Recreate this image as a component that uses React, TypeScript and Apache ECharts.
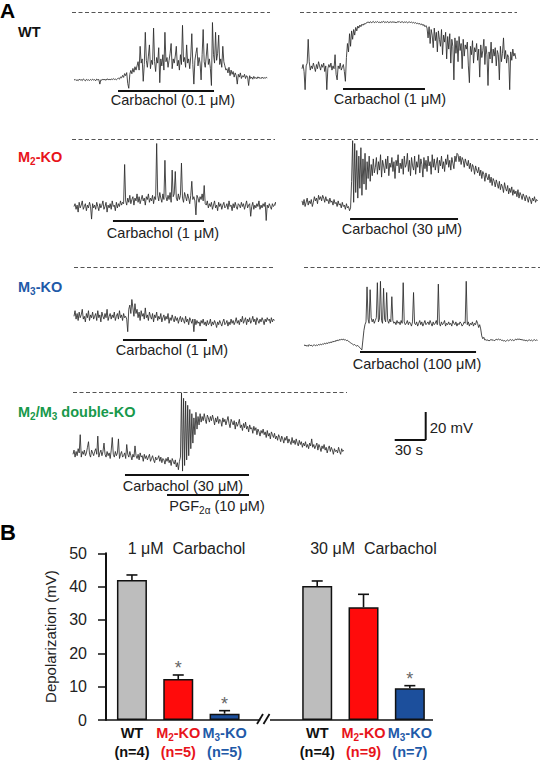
import React, { useEffect, useRef } from 'react';
import * as echarts from 'echarts';

const FONT = '"Liberation Sans", Arial, Helvetica, sans-serif';

// recording scale: 20 mV and 30 s scale bars
const SAMPLE_S = 1;
const PX_PER_MV = 28 / 20;
const PX_PER_S = 31 / 30;
const Y_MAX = 5;
const Y_MIN = -80;

// membrane potential (mV, relative to the dashed 0 mV reference), one sample per second
const wtCch01 = [
  -48.2, -47.6, -48.4, -47.9, -48.6, -47.5, -48.1, -47.8, -48.5, -47.3, -48.0, -48.7, -47.6, -48.2, -47.9, -48.4, -47.7, -48.3, -47.5, -48.1,
  -47.8, -48.6, -47.4, -48.0, -47.7, -51.0, -47.9, -48.2, -47.5, -48.0, -47.6, -48.3, -47.2, -47.9, -47.5, -48.1, -47.3, -47.8, -47.1, -47.7,
  -47.4, -47.9, -47.2,
  // carbachol onset
  -46.8, -47.5, -45.9, -46.6, -44.8, -46.2, -43.5, -45.0, -42.8, -50.5, -54.0, -44.0, -41.2, -43.6, -39.8, -42.5, -38.6, -41.0,
  // spiking plateau
  -38, -35, -41, -24, -36, -33, -49, -37, -14, -34, -39, -31, -23, -40, -34, -37, -11, -35, -42, -32,
  -36, -25, -50, -33, -38, -30, -41, -14, -35, -32, -39, -34, -29, -22, -40, -33, -36, -31, -24, -38,
  -34, -41, -30, -37, -9, -35, -32, -39, -23, -36, -33, -40, -31, -15, -37, -51, -34, -29, -25, -38,
  -32, -36, -48, -30, -12, -35, -39, -31, -22, -37, -33, -40, -52, -7, -30, -36, -14, -34, -29, -16,
  -37, -33, -39, -24, -35, -38, -41,
  // washout
  -40, -43, -39, -45, -41, -44, -42, -46, -43, -45, -51, -44, -46, -43, -47, -45, -46, -44, -47, -45,
  -46, -52, -45, -47, -46, -47.5, -45.5, -47, -46.2, -47.2, -45.8, -46.8, -46.3, -47.1, -46, -46.9, -46.4, -46.8, -46.2, -46.6,
];
const wtCch1 = [
  -40, -37, -42, -55, -38, -36, -19, -35, -41, -38, -40, -36, -39, -42, -37, -40, -35, -38, -41, -37,
  -39, -36, -42, -38, -55, -40, -37, -39, -36, -41, -38, -40, -30, -44, -48, -38, -40, -36, -41, -39,
  -37, -42, -49,
  // rise
  -32, -22, -28, -15, -24, -13, -19, -12, -16, -10.5, -13, -9.5, -11, -8.8, -10, -8.2, -9, -7.8, -8.3, -7.4,
  // sustained depolarization
  -7, -6.6, -7.3, -6.4, -7.1, -6.8, -6.2, -7.2, -6.5, -6.9, -6.3, -7.0, -6.6, -7.4, -6.4, -6.8, -6.1, -7.1, -6.6, -6.9,
  -6.3, -7.2, -6.7, -6.5, -7.0, -6.4, -6.9, -6.6, -7.3, -6.5, -6.8, -6.2, -7.0, -6.7, -6.4, -7.1, -6.6, -6.9, -6.5, -7.2,
  -6.8, -6.6, -7.0, -6.7, -7.3, -6.9, -7.5, -7.1, -7.8, -7.4, -8.2, -7.7, -8.6, -8.0, -9.2, -8.5, -10, -9.2,
  // oscillating recovery
  -11, -18, -10, -22, -12, -16, -25, -11, -20, -14, -28, -13, -19, -24, -12, -30, -16, -21, -14, -33,
  -17, -26, -15, -36, -19, -24, -48, -18, -29, -20, -35, -17, -27, -22, -40, -19, -31, -23, -26, -21,
  -38, -50, -24, -30, -20, -36, -25, -28, -22, -34, -26, -46, -23, -32, -27, -19, -37, -24, -30, -52,
  -28, -33, -21, -36, -26, -31, -25, -38, -27, -30, -48, -24, -35, -29, -18, -33, -27, -36, -30, -32,
  -55, -28, -34, -26, -31, -29, -33,
];
const m2Cch1 = [
  -48, -46, -50, -47, -52, -45, -49, -47, -44, -50, -48, -46, -51, -47, -49, -45, -48, -57, -46, -49,
  -47, -50, -45, -48, -51, -46, -49, -47, -44, -50, -48, -45, -52, -47, -49, -46, -50, -44, -48, -47,
  -51, -45, -49, -46, -48, -44, -47, -45, -46,
  -18,
  -44, -47, -42, -45, -40, -46, -43, -41, -47, -42, -44, -39, -45, -41, -46, -43, -40, -44, -42, -47,
  -41, -43, -39, -45, -42, -44, -40, -46, -41, -43,
  -3,
  -40, -44, -38, -42, -45, -39, -43, -15, -41, -44, -40, -43, -38, -45, -22, -41, -39, -23, -42, -44,
  -39, -43, -40, -17, -42, -45, -38, -41, -44, -39, -42, -46, -40, -30, -43, -41, -44, -54, -40, -42,
  -45, -41, -43, -39, -44, -33, -46,
  -47, -44, -49, -46, -48, -45, -50, -47, -44, -49, -47, -51, -45, -48, -46, -50, -47, -45, -49, -48,
  -46, -50, -44, -48, -47, -51, -46, -49, -45, -48, -50, -46, -47, -49, -45, -48, -46, -50, -47, -44,
  -49, -47, -46, -55, -48, -45, -50, -47, -49, -46, -48, -44, -50, -47, -49, -46, -48, -45, -58, -47,
  -49, -46, -48, -50, -46, -48, -47, -45, -48,
];
const m2Cch30 = [
  -44, -47, -43, -48, -45, -42, -47, -44, -46, -43, -48, -45, -41, -44, -42, -46, -40, -43, -41, -44,
  -40, -42, -45, -41, -44, -43, -46, -42, -45, -44, -47, -43, -46, -45, -48, -44, -47, -46, -49, -45,
  -48, -47, -50, -46, -49, -48, -51, -49,
  // onset burst
  -30, -1, -45, -3, -38, -8, -42, -12, -35, -6, -40, -14, -32, -10, -36, -16, -28, -12, -30, -18,
  -26, -14, -24,
  // plateau
  -20, -13, -25, -16, -22, -11, -27, -15, -19, -24, -14, -21, -12, -26, -17, -20, -13, -23, -16, -28,
  -15, -19, -11, -24, -17, -21, -14, -25, -12, -20, -18, -10, -23, -15, -26, -13, -19, -22, -12, -25,
  -16, -20, -11, -24, -14, -18, -27, -13, -21, -15, -23, -12, -19, -16, -25, -11, -20, -14, -22, -17,
  -13, -24, -15, -19, -12, -21, -16, -23, -14, -18, -11, -20, -15, -22, -13, -17, -21, -12, -16, -10,
  // slow repolarization
  -11, -16, -12, -18, -13, -15, -20, -14, -17, -19, -15, -21, -17, -23, -18, -20, -25, -19, -22, -24,
  -20, -26, -22, -28, -23, -25, -30, -24, -27, -29, -25, -31, -27, -33, -28, -30, -34, -29, -32, -35,
  -30, -36, -32, -34, -38, -31, -35, -37, -33, -39, -35, -38, -34, -40, -36, -39, -37, -41, -36, -42,
  -38, -40, -43, -39, -41, -44, -40, -42, -45, -41, -43, -46, -42, -44, -41, -45, -43, -44,
];
const m3Cch1 = [
  -35, -31, -37, -33, -38, -32, -36, -34, -30, -37, -35, -39, -33, -36, -31, -38, -34, -36, -32, -37,
  -35, -33, -38, -31, -36, -34, -39, -32, -35, -37, -33, -36, -30, -38, -35, -33, -37, -34, -36, -32,
  -38, -35, -33, -37, -31, -36, -34, -38, -33, -36, -35, -37,
  -46, -30, -27, -33, -23, -29, -35, -26, -33,
  -30, -36, -32, -38, -31, -35, -33, -37, -29, -36, -34, -38, -32, -35, -37, -33, -39, -34, -36, -32,
  -38, -35, -37, -33, -39, -36, -34, -38, -35, -37, -33, -40, -36, -38, -34, -37, -39, -35, -38, -36,
  -40, -37, -35, -39, -36, -38, -40, -35, -39, -37, -41, -36, -38, -40, -37,
  -46,
  -37, -41, -38, -40, -39, -42, -38, -40, -37, -41, -39, -42, -38, -41, -40, -37, -42, -39, -41, -38,
  -40, -43, -39, -41, -38, -40, -42, -39, -37, -41, -40, -38, -42, -39, -41, -37, -40, -38, -41, -39,
  -36, -40, -38, -41, -37, -39, -35, -40, -38, -36, -41, -37, -39, -36, -40, -38, -35, -39, -37, -41,
  -36, -38, -40, -37, -39, -36, -38, -41, -37, -39, -36, -38, -37, -40, -36, -39, -37, -38,
];
const m3Cch100 = [
  -56, -55.4, -56.3, -55.7, -56.5, -55.2, -56, -55.6, -56.4, -55.8, -55.3, -56.1, -55.5, -55.9, -55.1, -55.6, -54.8, -55.4, -54.6, -55,
  -54.2, -54.8, -53.9, -54.5, -53.6, -54.1, -53.2, -53.8, -52.8, -53.3, -52.4, -52.9, -51.9, -52.5, -51.6, -52.1, -51.3, -51.8, -51.2, -52,
  -51.6, -52.4, -52.1, -52.9, -53.3, -53.9, -54.4, -54.9, -55.5, -55.1, -55.9, -56.3, -55.8, -56.7, -57.3, -58.2, -59,
  -52, -45, -41,
  // plateau with action potentials
  -39, -14, -37, -40, -16, -36, -39, -37, -40, -38, -36, -11, -39, -37, -10, -38, -40, -15, -37, -39,
  -18, -38, -40, -37, -39, -21, -38, -40, -39, -41, -38, -40, -39, -41, -38, -40, -11, -39, -41, -40,
  -38, -41, -39, -40, -42, -39, -18, -40, -41, -39, -42, -40, -38, -41, -39, -42, -40, -38, -41, -40,
  -39, -41, -38, -40, -42, -39, -41, -40, -38, -41, -12, -40, -42, -39, -41, -40, -38, -42, -40, -41,
  -39, -41, -40, -42, -38, -40, -41, -39, -42, -40, -41, -39, -40, -42, -41, -39, -40, -10, -41, -39,
  -42, -40, -41, -39, -42, -40, -41, -38, -40, -43, -41,
  -44, -49, -51, -50, -52,
  -51.6, -52.3, -51.8, -52.6, -52.1, -51.5, -52.2, -51.7, -52.5, -52, -51.4, -51.9, -51.2, -51.8, -51.5, -52.2, -51.9, -52.7, -52.3, -52.9,
  -52.4, -51.9, -52.5, -52, -51.6, -52.3, -51.7, -52.4, -51.9, -51.3, -51.8, -51.1, -51.6, -51.2, -51.9, -51.5, -52.2, -51.8, -52.5, -52,
  -52.7, -52.2, -51.8, -52.4, -51.9, -52.6, -52.1, -51.7, -52.3, -51.9, -52.2,
];
const dkoCch30 = [
  -44, -41, -46, -42, -45, -40, -43, -30, -46, -42, -44, -41, -45, -43, -39, -35, -44, -46, -41, -43,
  -45, -42, -40, -44, -31, -46, -43, -41, -45, -42, -36, -44, -46, -42, -45, -43, -47, -41, -32, -44,
  -46, -42, -45, -43, -33, -47, -44, -42, -46, -45, -43, -47, -37, -44, -46, -42, -45, -48, -44, -46,
  -38, -45, -47, -44, -48, -43, -46, -45, -49, -44, -47, -45, -48, -46, -44, -49, -47, -45, -48, -50,
  -46, -48, -47, -45, -49, -46, -50, -47, -48, -51, -47, -49, -46, -50, -48, -52, -47, -49, -51, -48,
  -53, -50, -55, -49,
  // transient burst
  -46, 0, -56, -4, -52, -6, -48, -9, -45, -12, -40, -15, -36, -18, -30, -14, -26, -17, -23, -15, -21,
  // decaying depolarization
  -17, -20, -15, -19, -22, -16, -18, -21, -17, -20, -16, -19, -23, -18, -21, -17, -22, -19, -20, -24,
  -18, -21, -19, -23, -20, -17, -22, -25, -19, -21, -23, -20, -26, -21, -24, -22, -19, -25, -23, -27,
  -22, -25, -21, -26, -24, -28, -23, -26, -25, -29, -24, -27, -25, -30, -26, -28, -31, -27, -29, -26,
  -30, -28, -32, -27, -31, -29, -33, -28, -30, -32, -29, -33, -31, -34, -30, -32, -35, -31, -33, -36,
  -32, -34, -31, -36, -33, -35, -37, -32, -36, -34, -37, -33, -36, -38, -34, -37, -35, -39, -36, -38,
  -35, -39, -37, -40, -36, -38, -33, -39, -37, -40, -38, -36, -41, -37, -39, -42, -38, -40, -37, -41,
  -39, -43, -40, -38, -42, -39, -41, -44, -40, -42, -41, -43, -39, -42, -44, -40, -42, -41,
];

// drug application windows (s from the start of each recording)
const wtCch01Window = [42.6, 135.5];
const wtCch1Window = [39.7, 119.0];
const m2Cch1Window = [37.7, 125.8];
const m2Cch30Window = [46.5, 151.0];
const m3Cch1Window = [47.4, 128.7];
const m3Cch100Window = [54.2, 166.5];
const dkoCchWindow = [50.3, 170.3];
const dkoPgfWindow = [91.0, 170.3];

const drugLabels = [
  'Carbachol (0.1 μM)',
  'Carbachol (1 μM)',
  'Carbachol (1 μM)',
  'Carbachol (30 μM)',
  'Carbachol (1 μM)',
  'Carbachol (100 μM)',
  'Carbachol (30 μM)',
];

// summary: depolarization (mV), mean ± SEM
const barSlots = [0, 1, 2, 4, 5, 6];
const genotypes = ['WT', 'M2-KO', 'M3-KO', 'WT', 'M2-KO', 'M3-KO'];
const sampleSizes = [4, 5, 5, 4, 9, 7];
const depolMean = [42.0, 12.3, 1.9, 40.2, 33.8, 9.5];
const depolSem = [1.5, 1.2, 0.9, 1.5, 3.9, 0.8];
const significant = [false, true, true, false, false, true];
const doseTitles = ['1 μM  Carbachol', '30 μM  Carbachol'];
const depolTicks = [0, 10, 20, 30, 40, 50];

// ---- layout ----
const recordings = [wtCch01, wtCch1, m2Cch1, m2Cch30, m3Cch1, m3Cch100, dkoCch30];
const windows = [
  [wtCch01Window],
  [wtCch1Window],
  [m2Cch1Window],
  [m2Cch30Window],
  [m3Cch1Window],
  [m3Cch100Window],
  [dkoCchWindow, dkoPgfWindow],
];
const panelLayout = [
  { traceX: 74, dashX: [72, 270], dashY: 12.7, barY: [90.7], label: [173, 100] },
  { traceX: 302, dashX: [300, 517], dashY: 12.7, barY: [89], label: [390, 99] },
  { traceX: 74, dashX: [72, 275], dashY: 139.3, barY: [220.7], label: [163, 232.7] },
  { traceX: 302, dashX: [302, 538], dashY: 139.3, barY: [219], label: [402, 229] },
  { traceX: 74, dashX: [74, 275], dashY: 267.3, barY: [339.3], label: [172, 350] },
  { traceX: 304, dashX: [304, 540], dashY: 267.3, barY: [351.7], label: [417, 364] },
  { traceX: 73, dashX: [73, 347], dashY: 392.7, barY: [475, 495], label: [183, 486] },
];

const RED = '#e8141b';
const BLUE = '#1f5aa8';
const GREEN = '#18994b';
const genotypeColor: Record<string, string> = { WT: '#111111', 'M2-KO': RED, 'M3-KO': BLUE };
const barFill: Record<string, string> = { WT: '#bdbdbd', 'M2-KO': '#ff0b0b', 'M3-KO': '#1c4f9c' };

const BAR_GRID = { left: 106, top: 553.3, width: 327, height: 166.7 };
const SLOT_MIN = -0.56;
const SLOT_MAX = 6.5;

function richPair(color: string, size: number, bold = true) {
  const lh = size + 4;
  const sub = Math.round(size * 0.68);
  return {
    t: { color, fontSize: size, fontWeight: bold ? 'bold' : 'normal', fontFamily: FONT, lineHeight: lh },
    s: { color, fontSize: sub, fontWeight: bold ? 'bold' : 'normal', fontFamily: FONT, lineHeight: sub, padding: [lh - sub, 0, 0, 0] },
  };
}

function withSub(name: string, key: string) {
  // "M2-KO" -> M{sub 2}-KO
  const m = name.match(/^M(\d)(.*)$/);
  if (!m) return `{${key}t|${name}}`;
  return `{${key}t|M}{${key}s|${m[1]}}{${key}t|${m[2]}}`;
}

function rowLabel(text: string, color: string, x: number, y: number) {
  return {
    type: 'text',
    x,
    y,
    silent: true,
    style: {
      text,
      rich: richPair(color, 14.5),
      fill: color,
      font: `bold 14.5px ${FONT}`,
      align: 'left',
      verticalAlign: 'middle',
      textAlign: 'left',
      textVerticalAlign: 'middle',
    },
  };
}

function plainText(text: string, x: number, y: number, size: number, opts: any = {}) {
  return {
    type: 'text',
    x,
    y,
    silent: true,
    style: {
      text,
      fill: opts.color || '#222',
      font: `${opts.bold ? 'bold ' : ''}${size}px ${FONT}`,
      align: opts.align || 'center',
      verticalAlign: 'middle',
      textAlign: opts.align || 'center',
      textVerticalAlign: 'middle',
    },
  };
}

function buildOption() {
  const grids: any[] = [];
  const xAxes: any[] = [];
  const yAxes: any[] = [];
  const series: any[] = [];

  panelLayout.forEach((p, i) => {
    const tMin = (p.dashX[0] - p.traceX) / PX_PER_S;
    const tMax = (p.dashX[1] - p.traceX) / PX_PER_S;
    grids.push({
      left: p.dashX[0],
      top: p.dashY - Y_MAX * PX_PER_MV,
      width: p.dashX[1] - p.dashX[0],
      height: (Y_MAX - Y_MIN) * PX_PER_MV,
    });
    xAxes.push({ gridIndex: i, type: 'value', min: tMin, max: tMax, show: false });
    yAxes.push({ gridIndex: i, type: 'value', min: Y_MIN, max: Y_MAX, show: false });

    const drugLines = windows[i].map((w, k) => {
      const level = -(p.barY[k] - p.dashY) / PX_PER_MV;
      return [
        { coord: [w[0], level], lineStyle: { type: 'solid', color: '#111', width: 2.2 } },
        { coord: [w[1], level] },
      ];
    });

    series.push({
      type: 'line',
      xAxisIndex: i,
      yAxisIndex: i,
      data: recordings[i].map((v, j) => [j * SAMPLE_S, v]),
      showSymbol: false,
      symbol: 'none',
      silent: true,
      lineStyle: { color: '#2a2a2a', width: 0.85 },
      markLine: {
        silent: true,
        symbol: ['none', 'none'],
        label: { show: false },
        data: [
          [
            { coord: [tMin, 0], lineStyle: { type: [4, 2.5], color: '#555', width: 1 } },
            { coord: [tMax, 0] },
          ],
          ...drugLines,
        ],
      },
    });
  });

  // summary bar chart
  const bi = panelLayout.length;
  grids.push({ ...BAR_GRID });
  const labelRich: any = {};
  ['wt', 'm2', 'm3'].forEach((k, idx) => {
    const col = [genotypeColor.WT, RED, BLUE][idx];
    const rp = richPair(col, 14.5);
    labelRich[k + 't'] = rp.t;
    labelRich[k + 's'] = rp.s;
  });
  xAxes.push({
    gridIndex: bi,
    type: 'value',
    min: SLOT_MIN,
    max: SLOT_MAX,
    axisLine: { show: false, onZero: false },
    axisTick: { show: false },
    splitLine: { show: false },
    axisLabel: {
      customValues: barSlots,
      margin: 4,
      rich: labelRich,
      formatter: (v: number) => {
        const i = barSlots.indexOf(Math.round(v));
        if (i < 0) return '';
        const g = genotypes[i];
        const key = g === 'WT' ? 'wt' : g === 'M2-KO' ? 'm2' : 'm3';
        return `${withSub(g, key)}\n{${key}t|(n=${sampleSizes[i]})}`;
      },
    },
  });
  yAxes.push({
    gridIndex: bi,
    type: 'value',
    min: 0,
    max: 50,
    interval: 10,
    axisLine: { show: true, onZero: false, lineStyle: { color: '#111', width: 2 } },
    axisTick: { show: true, length: 8, lineStyle: { color: '#111', width: 1.5 } },
    axisLabel: { fontSize: 16, color: '#222', fontFamily: FONT, margin: 19, customValues: depolTicks },
    splitLine: { show: false },
    name: 'Depolarization (mV)',
    nameLocation: 'middle',
    nameGap: 46,
    nameRotate: 90,
    nameTextStyle: { fontSize: 15, color: '#222', fontFamily: FONT },
  });

  series.push({
    type: 'bar',
    xAxisIndex: bi,
    yAxisIndex: bi,
    barWidth: 30,
    silent: true,
    data: barSlots.map((s, i) => ({
      value: [s, depolMean[i]],
      itemStyle: { color: barFill[genotypes[i]], borderColor: '#111', borderWidth: 1.5 },
    })),
    markLine: {
      silent: true,
      symbol: ['none', 'none'],
      label: { show: false },
      lineStyle: { type: 'solid', color: '#111', width: 1.6 },
      data: [
        [{ coord: [SLOT_MIN, 0] }, { coord: [2.77, 0] }],
        [{ coord: [2.98, 0] }, { coord: [SLOT_MAX, 0] }],
      ],
    },
    z: 2,
  });

  series.push({
    type: 'custom',
    xAxisIndex: bi,
    yAxisIndex: bi,
    silent: true,
    z: 3,
    data: barSlots.map((s, i) => [s, depolMean[i], depolSem[i], significant[i] ? 1 : 0]),
    renderItem: (params: any, api: any) => {
      const x = api.value(0);
      const m = api.value(1);
      const e = api.value(2);
      const sig = api.value(3);
      const base = api.coord([x, m]);
      const top = api.coord([x, m + e]);
      const stroke = { stroke: '#111', lineWidth: 1.6 };
      const children: any[] = [
        { type: 'line', shape: { x1: base[0], y1: base[1], x2: top[0], y2: top[1] }, style: stroke },
        { type: 'line', shape: { x1: top[0] - 5.5, y1: top[1], x2: top[0] + 5.5, y2: top[1] }, style: stroke },
      ];
      if (sig) {
        children.push({
          type: 'text',
          x: top[0],
          y: top[1] - 7,
          style: {
            text: '*',
            fill: '#666',
            font: `18px ${FONT}`,
            align: 'center',
            verticalAlign: 'middle',
            textAlign: 'center',
            textVerticalAlign: 'middle',
          },
        });
      }
      return { type: 'group', children };
    },
  });

  // annotations
  const SB_X = 425.7;
  const SB_Y = 440;
  const graphic: any[] = [
    plainText('A', 0, 10.5, 21, { bold: true, align: 'left', color: '#000' }),
    plainText('B', 0, 532, 22, { bold: true, align: 'left', color: '#000' }),
    rowLabel('{t|WT}', '#111', 18, 32),
    rowLabel('{t|M}{s|2}{t|-KO}', RED, 18, 157),
    rowLabel('{t|M}{s|3}{t|-KO}', BLUE, 18, 287),
    rowLabel('{t|M}{s|2}{t|/M}{s|3}{t| double-KO}', GREEN, 18, 412),
    ...panelLayout.map((p, i) => plainText(drugLabels[i], p.label[0], p.label[1], 14.5)),
    {
      type: 'text',
      x: 217,
      y: 506,
      silent: true,
      style: {
        text: '{t|PGF}{s|2α}{t| (10 μM)}',
        rich: richPair('#222', 14.5, false),
        fill: '#222',
        font: `14.5px ${FONT}`,
        align: 'center',
        verticalAlign: 'middle',
        textAlign: 'center',
        textVerticalAlign: 'middle',
      },
    },
    {
      type: 'line',
      silent: true,
      shape: { x1: SB_X, y1: SB_Y - 20 * PX_PER_MV, x2: SB_X, y2: SB_Y },
      style: { stroke: '#111', lineWidth: 2 },
    },
    {
      type: 'line',
      silent: true,
      shape: { x1: SB_X - 30 * PX_PER_S, y1: SB_Y, x2: SB_X, y2: SB_Y },
      style: { stroke: '#111', lineWidth: 2 },
    },
    plainText('20 mV', SB_X + 4, 427.7, 15, { align: 'left' }),
    plainText('30 s', SB_X - 30 * PX_PER_S, 449.5, 15, { align: 'left' }),
    plainText(doseTitles[0], 186.5, 548, 16),
    plainText(doseTitles[1], 373.5, 548, 16),
    // axis break
    { type: 'line', silent: true, shape: { x1: 257, y1: 724, x2: 263, y2: 714 }, style: { stroke: '#111', lineWidth: 1.8 } },
    { type: 'line', silent: true, shape: { x1: 263.5, y1: 724, x2: 269.5, y2: 714 }, style: { stroke: '#111', lineWidth: 1.8 } },
  ];

  return {
    animation: false,
    backgroundColor: '#ffffff',
    grid: grids,
    xAxis: xAxes,
    yAxis: yAxes,
    series,
    graphic,
  };
}

export default function App() {
  const ref = useRef<HTMLDivElement>(null);
  useEffect(() => {
    if (!ref.current) return;
    const chart = echarts.init(ref.current, undefined, { renderer: 'svg' });
    chart.setOption(buildOption() as any);
    return () => chart.dispose();
  }, []);
  return (
    <div
      ref={ref}
      style={{ position: 'fixed', left: 0, top: 0, width: 546, height: 771, background: '#fff' }}
    />
  );
}
